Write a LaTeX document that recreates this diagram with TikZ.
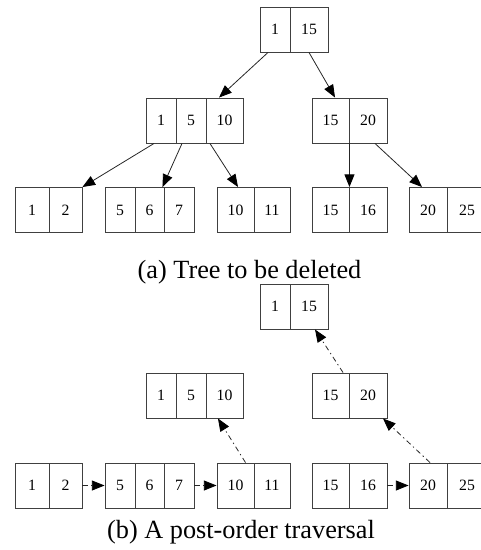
\documentclass[tikz,border=0pt]{standalone}
\usepackage{fontspec}
\setmainfont{Liberation Serif}
\usetikzlibrary{arrows.meta}
\begin{document}
\begin{tikzpicture}[x=0.75pt,y=-0.75pt,
  cell/.style={draw=black!75,line width=0.7pt,minimum height=33.75pt,inner sep=0pt,text height=8pt,text depth=0pt,font=\fontsize{11.8}{12}\selectfont},
  w30/.style={cell,minimum width=22.5pt},
  w37/.style={cell,minimum width=27.75pt},
  conn/.style={draw=black!85,line width=0.6pt,-{Triangle[length=9.5pt,width=7.5pt,color=black]}},
  trav/.style={conn,dash pattern=on 4pt off 2.5pt on 1pt off 2.5pt},
  captext/.style={anchor=base,font=\fontsize{19.7}{22}\selectfont,inner sep=0pt}]
\useasboundingbox (0,0) rectangle (481,550);
% ---------- (a) ----------
\node[w30] (aT1) at (275,29.5) {1};
\node[w37,minimum width=28.5pt] (aT15) at (309,29.5) {15};
\node[w30] (aL1) at (161,120.5) {1};
\node[w30] (aL5) at (191,120.5) {5};
\node[w37] (aL10) at (224.5,120.5) {10};
\node[w37] (aR15) at (330.5,120.5) {15};
\node[w37,minimum width=28.5pt] (aR20) at (368,120.5) {20};
\node[w30,minimum width=25.5pt] (aB1) at (32,210) {1};
\node[w30,minimum width=24.75pt] (aB2) at (65.5,210) {2};
\node[w30] (aB5) at (120,210) {5};
\node[w30,minimum width=21.75pt] (aB6) at (149.5,210) {6};
\node[w30] (aB7) at (179,210) {7};
\node[w37] (aB10) at (235.5,210) {10};
\node[w37,minimum width=27pt] (aB11) at (272,210) {11};
\node[w37] (aB15) at (330.5,210) {15};
\node[w37,minimum width=28.5pt] (aB16) at (368,210) {16};
\node[w37,minimum width=28.5pt] (aB20) at (428,210) {20};
\node[w37,minimum width=29.25pt] (aB25) at (467,210) {25};
\draw[conn] ([xshift=-5.25pt]aT1.south) -- ([xshift=-4.1pt]aL10.north);
\draw[conn] (aT15.south) -- ([xshift=3.4pt]aR15.north);
\draw[conn] ([xshift=-5.25pt]aL1.south) -- (aB2.north east);
\draw[conn] ([xshift=-6.75pt]aL5.south) -- ([xshift=-1.5pt]aB6.north east);
\draw[conn] ([xshift=-10.9pt]aL10.south) -- ([xshift=1.9pt]aB10.north);
\draw[conn] (aR15.south east) -- (aB15.north east);
\draw[conn] ([xshift=5.25pt]aR20.south) -- ([xshift=-4.5pt]aB20.north);
\node[captext] (capa) at (249.5,278) {(a) Tree to be deleted};
% ---------- (b) ----------
\node[w30] (bT1) at (275,306.5) {1};
\node[w37,minimum width=28.5pt] (bT15) at (309,306.5) {15};
\node[w30] (bL1) at (161,395.5) {1};
\node[w30] (bL5) at (191,395.5) {5};
\node[w37] (bL10) at (224.5,395.5) {10};
\node[w37] (bR15) at (330.5,395.5) {15};
\node[w37,minimum width=28.5pt] (bR20) at (368,395.5) {20};
\node[w30,minimum width=25.5pt] (bB1) at (32,485.5) {1};
\node[w30,minimum width=24.75pt] (bB2) at (65.5,485.5) {2};
\node[w30] (bB5) at (120,485.5) {5};
\node[w30,minimum width=21.75pt] (bB6) at (149.5,485.5) {6};
\node[w30] (bB7) at (179,485.5) {7};
\node[w37] (bB10) at (235.5,485.5) {10};
\node[w37,minimum width=27pt] (bB11) at (272,485.5) {11};
\node[w37] (bB15) at (330.5,485.5) {15};
\node[w37,minimum width=28.5pt] (bB16) at (368,485.5) {16};
\node[w37,minimum width=28.5pt] (bB20) at (428,485.5) {20};
\node[w37,minimum width=29.25pt] (bB25) at (467,485.5) {25};
\draw[trav] (bB2.east) -- (bB5.west);
\draw[trav] (bB7.east) -- (bB10.west);
\draw[trav] (bB16.east) -- (bB20.west);
\draw[trav] ([xshift=7.5pt]bB10.north) -- ([xshift=-4.9pt]bL10.south);
\draw[trav] ([xshift=1.5pt]bB20.north) -- ([xshift=11.25pt]bR20.south);
\draw[trav] ([xshift=9.4pt]bR15.north) -- ([xshift=4.5pt]bT15.south);
\node[captext] (capb) at (241,538) {(b) A post-order traversal};
\end{tikzpicture}
\end{document}
